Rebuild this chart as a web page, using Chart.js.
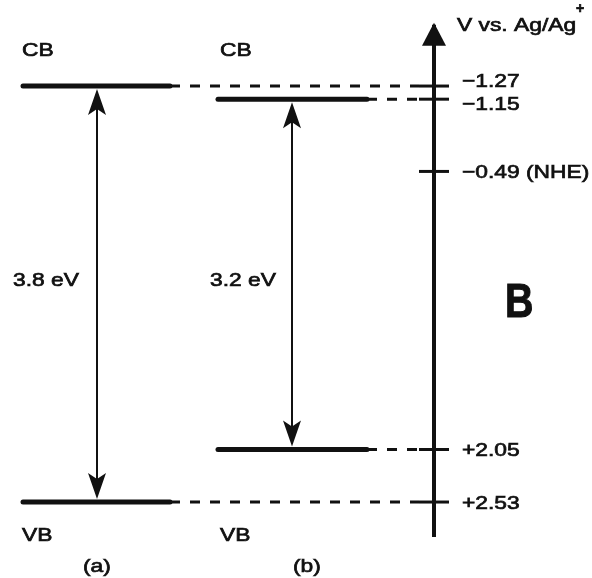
<!DOCTYPE html>
<html>
<head>
<meta charset="utf-8">
<title>Band edge positions</title>
<script src="https://cdn.jsdelivr.net/npm/chart.js@4.4.1/dist/chart.umd.min.js"></script>
<style>
    html, body { margin: 0; padding: 0; background: #fff; }
    #wrap { width: 592px; height: 578px; }
</style>
</head>
<body>
<div id="wrap"><canvas id="bands" width="592" height="578"></canvas></div>
<script>
// Band edges (V vs. Ag/Ag+) for the two samples
const materials = ['(a)', '(b)'];
const cbLevels = [-1.27, -1.15];
const vbLevels = [2.53, 2.05];

// Marks on the potential axis
const tickValues = [-1.27, -1.15, -0.49, 2.05, 2.53];
const tickNotes = ['', '', ' (NHE)', '', ''];

const panelLetter = 'B';
const axisTitle = 'V vs. Ag/Ag';

// Layout (canvas pixels on x, volts on y)
const FONT = '"Liberation Sans", Arial, Helvetica, sans-serif';
const INK = '#111';
const columns = [
    { from: 23, to: 170, arrowX: 97, labelX: 22, gapX: 13 },
    { from: 218, to: 367, arrowX: 292, labelX: 220, gapX: 210 }
];
const AXIS_X = 434;
const TICK_HALF = 15;
const AXIS_TOP = -1.83;
const AXIS_BOTTOM = 2.85;
const Y_MIN = -2.056;
const Y_MAX = 3.224;
const tickNudge = [-6, 4, 0, 0, 0];

// Build datasets: dashed leaders first, solid band edges on top
const datasets = [];
materials.forEach((m, i) => {
    const col = columns[i];
    [cbLevels[i], vbLevels[i]].forEach(level => {
        datasets.push({
            data: [{ x: col.to, y: level }, { x: AXIS_X - TICK_HALF, y: level }],
            borderColor: INK,
            borderWidth: 3,
            borderDash: [10, 10],
            pointRadius: 0
        });
    });
});
materials.forEach((m, i) => {
    const col = columns[i];
    [cbLevels[i], vbLevels[i]].forEach(level => {
        datasets.push({
            data: [{ x: col.from, y: level }, { x: col.to, y: level }],
            borderColor: INK,
            borderWidth: 5,
            borderCapStyle: 'round',
            pointRadius: 0
        });
    });
});

// Potential axis and its ticks
datasets.push({
    data: [{ x: AXIS_X, y: AXIS_TOP }, { x: AXIS_X, y: AXIS_BOTTOM }],
    borderColor: INK,
    borderWidth: 4,
    pointRadius: 0
});
tickValues.forEach(v => {
    datasets.push({
        data: [{ x: AXIS_X - TICK_HALF, y: v }, { x: AXIS_X + TICK_HALF, y: v }],
        borderColor: INK,
        borderWidth: 3,
        pointRadius: 0
    });
});

function drawText(ctx, str, x, y, size, opts = {}) {
    const sx = opts.sx || 1.2;
    ctx.save();
    ctx.font = `${opts.bold ? 'bold ' : ''}${size}px ${FONT}`;
    ctx.fillStyle = INK;
    ctx.strokeStyle = INK;
    ctx.lineWidth = opts.stroke !== undefined ? opts.stroke : 0.7;
    ctx.textBaseline = 'alphabetic';
    ctx.textAlign = 'left';
    ctx.translate(x, y);
    ctx.scale(sx, 1);
    ctx.fillText(str, 0, 0);
    if (ctx.lineWidth > 0) ctx.strokeText(str, 0, 0);
    const w = ctx.measureText(str).width * sx;
    ctx.restore();
    return w;
}

function arrowHead(ctx, x, tipY, dir, len, half, notch) {
    // dir = -1 points up, +1 points down
    ctx.beginPath();
    ctx.moveTo(x, tipY);
    ctx.lineTo(x - half, tipY - dir * len);
    ctx.lineTo(x, tipY - dir * (len - notch));
    ctx.lineTo(x + half, tipY - dir * len);
    ctx.closePath();
    ctx.fill();
}

function formatPotential(v) {
    return (v < 0 ? '\u2212' : '+') + Math.abs(v).toFixed(2);
}

const annotations = {
    id: 'annotations',
    afterDatasetsDraw(chart) {
        const ctx = chart.ctx;
        const ys = chart.scales.y;
        ctx.save();
        ctx.fillStyle = INK;
        ctx.strokeStyle = INK;

        // band gap arrows and labels
        materials.forEach((m, i) => {
            const col = columns[i];
            const top = ys.getPixelForValue(cbLevels[i]) + 3;
            const bottom = ys.getPixelForValue(vbLevels[i]) - 3;
            ctx.lineWidth = 2;
            ctx.beginPath();
            ctx.moveTo(col.arrowX, top + 10);
            ctx.lineTo(col.arrowX, bottom - 10);
            ctx.stroke();
            arrowHead(ctx, col.arrowX, top, -1, 26, 9, 6);
            arrowHead(ctx, col.arrowX, bottom, 1, 26, 9, 6);

            const gap = (vbLevels[i] - cbLevels[i]).toFixed(1) + ' eV';
            drawText(ctx, gap, col.gapX, 286, 19);
            drawText(ctx, 'CB', col.labelX, 56, 19);
            drawText(ctx, 'VB', col.labelX, 541, 19);
        });
        drawText(ctx, materials[0], 83, 572, 19);
        drawText(ctx, materials[1], 293, 572, 19);

        // axis arrowhead
        const axisTopPx = ys.getPixelForValue(AXIS_TOP);
        ctx.beginPath();
        ctx.moveTo(AXIS_X, axisTopPx - 2);
        ctx.lineTo(AXIS_X - 12, axisTopPx + 21);
        ctx.lineTo(AXIS_X + 12, axisTopPx + 21);
        ctx.closePath();
        ctx.fill();

        // axis title with superscript plus
        const w = drawText(ctx, axisTitle, 457, 31, 19);
        drawText(ctx, '+', 457 + w, 13, 14, { bold: true, sx: 1 });

        // tick labels
        tickValues.forEach((v, i) => {
            const py = ys.getPixelForValue(v) + 7 + tickNudge[i];
            drawText(ctx, formatPotential(v) + tickNotes[i], 462, py, 19);
        });

        // panel letter
        drawText(ctx, panelLetter, 505, 317, 48, { bold: true, sx: 0.82, stroke: 1 });
        ctx.restore();
    }
};

new Chart(document.getElementById('bands'), {
    type: 'line',
    data: { datasets },
    options: {
        responsive: false,
        animation: false,
        events: [],
        layout: { padding: 0 },
        plugins: {
            legend: { display: false },
            tooltip: { enabled: false }
        },
        scales: {
            x: { type: 'linear', min: 0, max: 592, display: false },
            y: { type: 'linear', min: Y_MIN, max: Y_MAX, reverse: true, display: false }
        }
    },
    plugins: [annotations]
});
</script>
</body>
</html>
